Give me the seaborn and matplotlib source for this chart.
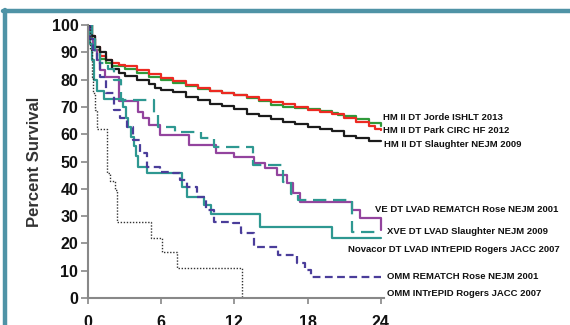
import matplotlib
matplotlib.use("Agg")
import matplotlib.pyplot as plt
from matplotlib.lines import Line2D
import seaborn as sns
import pandas as pd

sns.set_style("ticks")
plt.rcParams['font.family'] = ['Liberation Sans', 'DejaVu Sans']

# months / percent survival (step change points)
park_t = [0, 0.3, 0.6, 1.0, 1.5, 2, 2.5, 3, 4, 5, 6, 7, 8, 9, 10, 11, 12, 13, 14, 15, 16, 17, 18, 19, 20, 21, 22, 23, 23.5, 24]
park_s = [100, 96, 92, 88.5, 87, 86, 85.5, 85, 83.5, 82, 80.5, 79.5, 78, 77, 76, 75.2, 74.4, 73.5, 72.5, 71.8, 71, 70, 69, 68.2, 67.3, 66, 64.5, 63, 62, 61.5]

jorde_t = [0, 0.3, 0.6, 1, 1.5, 2, 3, 4, 5, 6, 7, 8, 9, 10, 11, 12, 13, 14, 15, 16, 17, 18, 19, 20, 20.5, 21, 22, 23, 24]
jorde_s = [100, 95, 91, 87.5, 86, 85, 84, 82.5, 81, 79.8, 78.8, 77.8, 76.7, 75.8, 75, 74.3, 73.3, 72, 70.8, 70, 69.6, 69.3, 68.5, 67.8, 67, 66.5, 65.5, 64, 63]

slaughter_t = [0, 0.3, 0.6, 1, 1.5, 2, 2.5, 3, 4, 5, 5.5, 6, 7, 8, 9, 10, 11, 12, 13, 14, 15, 16, 17, 18, 19, 20, 21, 22, 23, 24]
slaughter_s = [100, 96, 92, 90, 87, 84, 82.5, 81.3, 80, 78.5, 77, 76.3, 75.5, 73.7, 72.5, 71, 70.5, 69.3, 67.5, 66.5, 65.5, 64.5, 63.8, 62.5, 62, 61, 59.5, 58.5, 57.5, 57.5]

ve_t = [0, 0.2, 0.4, 0.7, 1.0, 1.4, 2.5, 4.1, 4.5, 5.0, 5.9, 8.3, 10.5, 12.0, 13.6, 14.5, 15.5, 16.3, 16.8, 17.4, 21.6, 22.3, 24]
ve_s = [100, 95, 91, 87, 83.5, 81, 72, 68, 66, 63.5, 59.7, 56, 53, 51.8, 49.5, 47.5, 45, 42, 38.3, 35.3, 32.2, 29.2, 25]

xve_t = [0, 0.3, 0.6, 1.0, 1.6, 2.1, 2.7, 5.4, 5.7, 7.1, 9.3, 10.3, 13.5, 16.0, 16.6, 17.2, 21.6, 24]
xve_s = [100, 95, 90, 86, 84, 80, 72.5, 67, 62.8, 60.9, 58.5, 55.4, 48.7, 42.6, 38, 35.8, 24.3, 24.3]

novacor_t = [0, 0.15, 0.3, 0.5, 0.7, 1.3, 2.9, 3.1, 3.3, 3.55, 3.75, 3.95, 4.1, 4.8, 7.7, 8.1, 9.5, 10.1, 14.1, 20, 24]
novacor_s = [100, 93, 87, 80, 76, 73, 70, 66, 62.5, 59, 55.5, 52, 48, 45.7, 40.8, 37, 34, 30.6, 26.1, 21.8, 21.8]

omm_rem_t = [0, 0.2, 0.44, 0.7, 1.0, 1.5, 2.1, 2.6, 3.2, 3.7, 4.3, 4.8, 5.9, 7.0, 7.5, 8.1, 8.9, 9.7, 10.3, 11.9, 12.5, 13.6, 15.6, 17.1, 17.8, 18.3, 24]
omm_rem_s = [100, 95, 91, 86, 81, 75, 69, 66, 62.8, 58, 53, 48, 46.3, 45.7, 43.2, 40.8, 37, 32.2, 28, 27.3, 23.7, 18.6, 15.8, 12.7, 10.3, 7.8, 7.8]

omm_int_t = [0, 0.15, 0.3, 0.45, 0.6, 0.75, 1.55, 1.8, 2.2, 2.35, 5.2, 6.1, 7.3, 12.6, 24]
omm_int_s = [100, 91, 81, 75, 69, 62, 45.7, 43, 39.6, 28, 22, 17, 11, 0, 0]

series = [
    ("HM II DT Jorde ISHLT 2013", jorde_t, jorde_s),
    ("HM II DT Park CIRC HF 2012", park_t, park_s),
    ("HM II DT Slaughter NEJM 2009", slaughter_t, slaughter_s),
    ("VE DT LVAD REMATCH Rose NEJM 2001", ve_t, ve_s),
    ("XVE DT LVAD Slaughter NEJM 2009", xve_t, xve_s),
    ("Novacor DT LVAD INTrEPID Rogers JACC 2007", novacor_t, novacor_s),
    ("OMM REMATCH Rose NEJM 2001", omm_rem_t, omm_rem_s),
    ("OMM INTrEPID Rogers JACC 2007", omm_int_t, omm_int_s),
]

x_ticks = [0, 6, 12, 18, 24]
y_ticks = list(range(0, 101, 10))

# line styles and label anchor (x, y in data units)
styles = {
    "HM II DT Jorde ISHLT 2013": dict(color="#2f9a3a", lw=1.6, ls="-", at=(24.2, 66.3)),
    "HM II DT Park CIRC HF 2012": dict(color="#ec2a22", lw=1.6, ls="-", at=(24.2, 61.5)),
    "HM II DT Slaughter NEJM 2009": dict(color="#1b1b1b", lw=1.6, ls="-", at=(24.3, 56.4)),
    "VE DT LVAD REMATCH Rose NEJM 2001": dict(color="#93449e", lw=1.6, ls="-", at=(23.5, 32.6)),
    "XVE DT LVAD Slaughter NEJM 2009": dict(color="#2e9891", lw=1.6, ls=(0, (6, 3)), at=(24.5, 24.2)),
    "Novacor DT LVAD INTrEPID Rogers JACC 2007": dict(color="#2e9891", lw=1.6, ls="-", at=(21.3, 17.9)),
    "OMM REMATCH Rose NEJM 2001": dict(color="#4a3d9a", lw=1.6, ls=(0, (3.5, 2)), at=(24.5, 7.7)),
    "OMM INTrEPID Rogers JACC 2007": dict(color="#333333", lw=1.0, ls=(0, (1, 1.2)), at=(24.5, 1.8)),
}

fig = plt.figure(figsize=(5.7, 3.25), dpi=100)
fig.patch.set_facecolor("white")
x0, x1 = 88 / 570, (88 + 24.3 * 12.2) / 570
ax = fig.add_axes([x0, 27 / 325, x1 - x0, 273 / 325])

for name, t, s in series:
    st = styles[name]
    df = pd.DataFrame({"month": t, "survival": s})
    sns.lineplot(data=df, x="month", y="survival", ax=ax, color=st["color"],
                 linewidth=st["lw"], linestyle=st["ls"], drawstyle="steps-post",
                 estimator=None, sort=False)
    ax.text(st["at"][0], st["at"][1], name, fontsize=6.8, fontweight="bold",
            family=["Liberation Sans Narrow", "Liberation Sans", "DejaVu Sans"],
            color="#111111", va="center", ha="left", clip_on=False)

ax.set_xlim(0, 24.3)
ax.set_ylim(0, 100)
ax.set_xticks(x_ticks)
ax.set_yticks(y_ticks)
ax.set_xlabel("")
ax.set_ylabel("Percent Survival", fontsize=12, fontweight="bold", color="#333333", labelpad=7)
ax.tick_params(axis="y", direction="out", length=5, width=1.2, color="#888888",
               labelsize=11.5, pad=2, labelcolor="#111111")
ax.tick_params(axis="x", direction="out", length=4, width=1.2, color="#888888",
               labelsize=11.5, pad=8, labelcolor="#111111")
for lab in ax.get_xticklabels() + ax.get_yticklabels():
    lab.set_fontweight("bold")
sns.despine(ax=ax)
for sp in ("left", "bottom"):
    ax.spines[sp].set_color("#888888")
    ax.spines[sp].set_linewidth(1.5)

# teal frame around the panel
frame = "#4f93a6"
fig.add_artist(Line2D([3 / 570, 1], [1 - 11 / 325, 1 - 11 / 325], color=frame, lw=3.2,
                      transform=fig.transFigure))
fig.add_artist(Line2D([5 / 570, 5 / 570], [0, 1 - 9.5 / 325], color=frame, lw=3.2,
                      transform=fig.transFigure))

fig.savefig("out.png", dpi=100)
